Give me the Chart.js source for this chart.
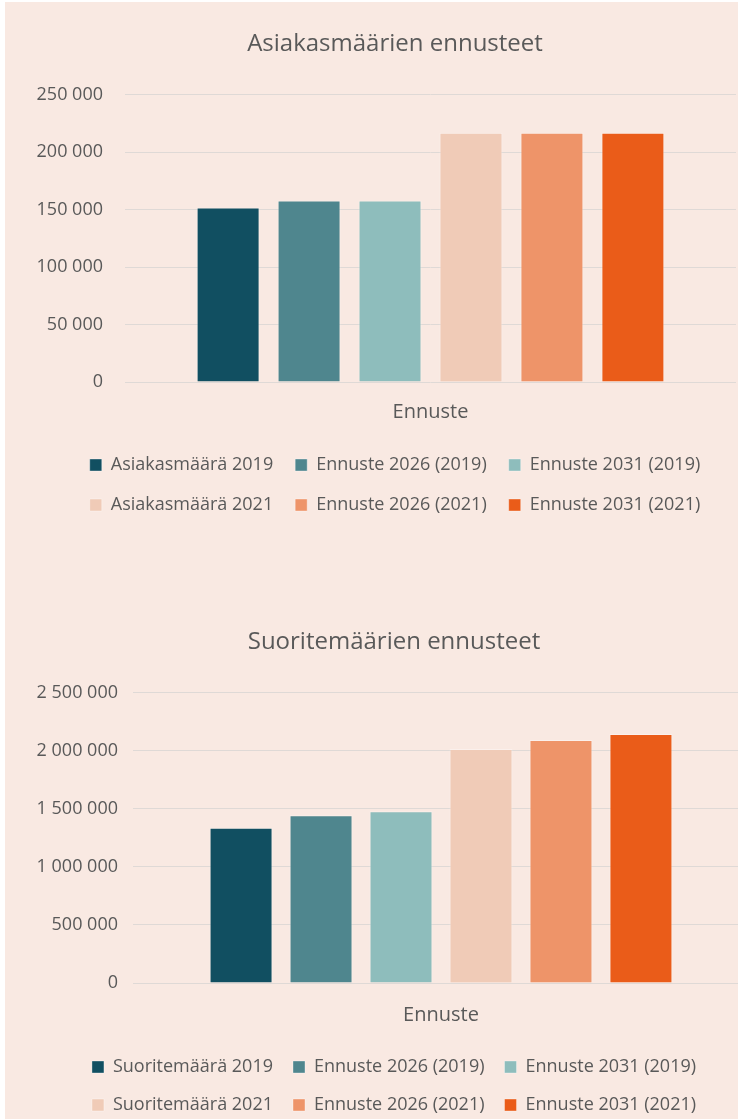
<!DOCTYPE html>
<html>
<head>
<meta charset="utf-8">
<script src="https://cdn.jsdelivr.net/npm/chart.js@4/dist/chart.umd.min.js"></script>
<style>
  html, body { margin: 0; padding: 0; background: #ffffff; width: 738px; height: 1119px; overflow: hidden; }
  #bg { position: absolute; left: 5px; top: 2px; width: 733px; height: 1117px; background: #f9e9e2; }
  .wrap { position: absolute; left: 0; overflow: hidden; }
  #w1 { top: 0; width: 738px; height: 524px; }
  #w2 { top: 598px; width: 738px; height: 526px; }
  canvas { display: block; }
</style>
</head>
<body>
<div id="bg"></div>
<div class="wrap" id="w1"><canvas id="c1" width="790" height="524"></canvas></div>
<div class="wrap" id="w2"><canvas id="c2" width="788" height="526"></canvas></div>
<script>
// ---- data ----
const categories = ['Ennuste'];

const title1 = 'Asiakasmäärien ennusteet';
const seriesNames1 = ['Asiakasmäärä 2019', 'Ennuste 2026 (2019)', 'Ennuste 2031 (2019)',
                      'Asiakasmäärä 2021', 'Ennuste 2026 (2021)', 'Ennuste 2031 (2021)'];
const values1 = [152000, 158000, 158000, 217000, 217000, 217000];
const yTicks1 = [0, 50000, 100000, 150000, 200000, 250000];

const title2 = 'Suoritemäärien ennusteet';
const seriesNames2 = ['Suoritemäärä 2019', 'Ennuste 2026 (2019)', 'Ennuste 2031 (2019)',
                      'Suoritemäärä 2021', 'Ennuste 2026 (2021)', 'Ennuste 2031 (2021)'];
const values2 = [1338000, 1445000, 1479000, 2016000, 2094000, 2146000];
const yTicks2 = [0, 500000, 1000000, 1500000, 2000000, 2500000];

const colors = ['#114f61', '#4f868e', '#8ebdbc', '#f0cbb7', '#ee9469', '#ea5c19'];

// ---- helpers ----
const FONT = "'Open Sans', 'Noto Sans', sans-serif";
const TXT = '#595959';
function fmt(v) { return String(v).replace(/\B(?=(\d{3})+(?!\d))/g, ' '); }

function makeChart(id, cfg) {
  const datasets = cfg.names.map((n, i) => ({
    label: n,
    data: [cfg.values[i]],
    backgroundColor: colors[i],
    borderColor: 'rgba(255,255,255,0.35)',
    borderWidth: 1,
    categoryPercentage: cfg.catPct,
    barPercentage: cfg.barPct
  }));
  return new Chart(document.getElementById(id), {
    type: 'bar',
    data: { labels: categories, datasets },
    options: {
      responsive: false,
      animation: false,
      devicePixelRatio: 1,
      layout: { padding: 0 },
      plugins: {
        title: {
          display: true,
          text: cfg.title,
          color: TXT,
          font: { family: FONT, size: 24, weight: 'normal', lineHeight: 1.2 },
          padding: { top: cfg.titleTop, bottom: cfg.titleBottom }
        },
        legend: {
          position: 'bottom',
          labels: {
            color: TXT,
            font: { family: FONT, size: 18 },
            boxWidth: 12,
            boxHeight: 12,
            padding: cfg.legendPad
          }
        },
        tooltip: { enabled: false }
      },
      scales: {
        x: {
          grid: { display: false },
          border: { display: false },
          ticks: { color: TXT, font: { family: FONT, size: 20 }, padding: cfg.xPad },
          afterFit: (s) => { s.height = cfg.xHeight; }
        },
        y: {
          position: 'left',
          min: cfg.ticks[0],
          max: cfg.ticks[cfg.ticks.length - 1],
          grid: { color: '#dfd9d6', lineWidth: 1, drawTicks: false },
          border: { display: false },
          ticks: { color: TXT, font: { family: FONT, size: 18 }, padding: cfg.yPad, callback: (v) => fmt(v) },
          afterBuildTicks: (s) => { s.ticks = cfg.ticks.map(v => ({ value: v })); },
          afterFit: (s) => { s.width = cfg.yWidth; }
        },
        // empty spacer on the right so the title and legend centre like the original
        yRight: {
          type: 'linear',
          position: 'right',
          display: true,
          grid: { display: false },
          border: { display: false },
          ticks: { display: false },
          afterFit: (s) => { s.width = cfg.rightWidth; }
        }
      }
    }
  });
}

makeChart('c1', {
  title: title1, names: seriesNames1, values: values1, ticks: yTicks1,
  catPct: 0.795, barPct: 0.778,
  yWidth: 125, rightWidth: 54, yPad: 22,
  titleTop: 30, titleBottom: 36,
  xPad: 10, xHeight: 52, legendPad: 22
});

makeChart('c2', {
  title: title2, names: seriesNames2, values: values2, ticks: yTicks2,
  catPct: 0.779, barPct: 0.7875,
  yWidth: 133, rightWidth: 39, yPad: 15,
  titleTop: 30, titleBottom: 36,
  xPad: 12, xHeight: 55, legendPad: 20
});
</script>
</body>
</html>
